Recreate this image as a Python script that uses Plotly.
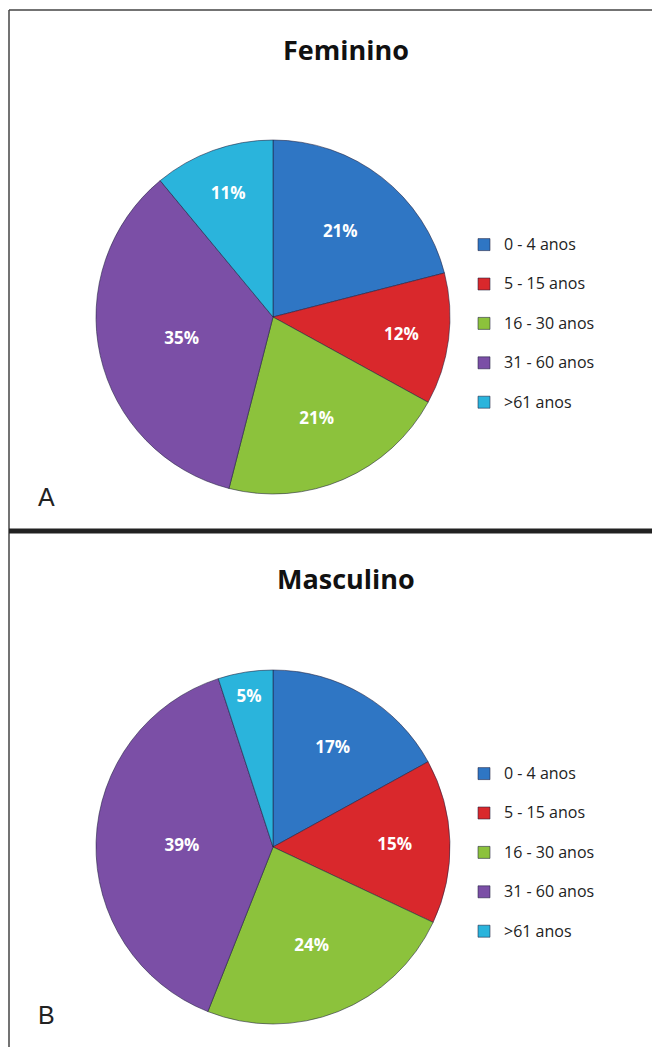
import plotly.graph_objects as go

# Age groups and percentages per sex
age_groups = ["0 - 4 anos", "5 - 15 anos", "16 - 30 anos", "31 - 60 anos", ">61 anos"]
feminino = [21, 12, 21, 35, 11]
masculino = [17, 15, 24, 39, 5]
slice_colors = ["#2f76c4", "#d9282c", "#8cc23c", "#7b4fa6", "#2ab4dc"]

W, H = 652, 1047

def px_x(x):
    return x / W

def px_y(y):
    return 1 - y / H

def legend_labels(suffix):
    # a blank second line opens up the spacing between legend items;
    # the suffix keeps each pie's entries separate so both legends are drawn
    return ["<span style='font-size:16px'>" + g + "</span><br>" + suffix for g in age_groups]

fig = go.Figure()

def add_pie(values, top, bottom, legend_name, suffix):
    fig.add_trace(go.Pie(
        labels=legend_labels(suffix),
        values=values,
        sort=False,
        direction="clockwise",
        rotation=0,
        marker=dict(colors=slice_colors, line=dict(color="rgba(30,30,60,0.55)", width=1)),
        texttemplate="%{value}%",
        textposition="inside",
        insidetextorientation="horizontal",
        textfont=dict(family="Open Sans", size=17, color="white", weight="bold"),
        hovertemplate="%{value}%<extra></extra>",
        domain=dict(x=[px_x(96), px_x(450)], y=[px_y(bottom), px_y(top)]),
        legend=legend_name,
        showlegend=True,
    ))

add_pie(feminino, 140, 494, "legend", "\u00a0")
add_pie(masculino, 669, 1025, "legend2", "\u00a0\u00a0")

legend_style = dict(
    xanchor="left", yanchor="top",
    font=dict(family="Open Sans", size=14, color="#222"),
    bgcolor="rgba(0,0,0,0)",
    valign="top",
    itemclick=False,
    itemdoubleclick=False,
)

title_font = dict(family="Open Sans", size=27, color="#111")
letter_font = dict(family="Liberation Sans", size=25, color="#222")

fig.update_layout(
    width=W, height=H,
    margin=dict(l=0, r=0, t=0, b=0),
    paper_bgcolor="white",
    plot_bgcolor="white",
    legend=dict(x=px_x(464), y=px_y(229), **legend_style),
    legend2=dict(x=px_x(464), y=px_y(758), **legend_style),
    annotations=[
        dict(text="<b>Feminino</b>", x=px_x(346), y=px_y(49), xref="paper", yref="paper",
             xanchor="center", yanchor="middle", showarrow=False, font=title_font),
        dict(text="<b>Masculino</b>", x=px_x(346), y=px_y(578), xref="paper", yref="paper",
             xanchor="center", yanchor="middle", showarrow=False, font=title_font),
        dict(text="A", x=px_x(46.5), y=px_y(497), xref="paper", yref="paper",
             xanchor="center", yanchor="middle", showarrow=False, font=letter_font),
        dict(text="B", x=px_x(46.5), y=px_y(1015), xref="paper", yref="paper",
             xanchor="center", yanchor="middle", showarrow=False, font=letter_font),
    ],
    shapes=[
        # outer frame: top and left edges
        dict(type="line", xref="paper", yref="paper", x0=px_x(9), x1=1, y0=px_y(10), y1=px_y(10),
             line=dict(color="#444", width=1.5)),
        dict(type="line", xref="paper", yref="paper", x0=px_x(9), x1=px_x(9), y0=px_y(10), y1=0,
             line=dict(color="#444", width=1.5)),
        # heavy divider between the two panels
        dict(type="line", xref="paper", yref="paper", x0=px_x(9), x1=1, y0=px_y(531), y1=px_y(531),
             line=dict(color="#222", width=5)),
    ],
)

fig.write_html("out.html")
